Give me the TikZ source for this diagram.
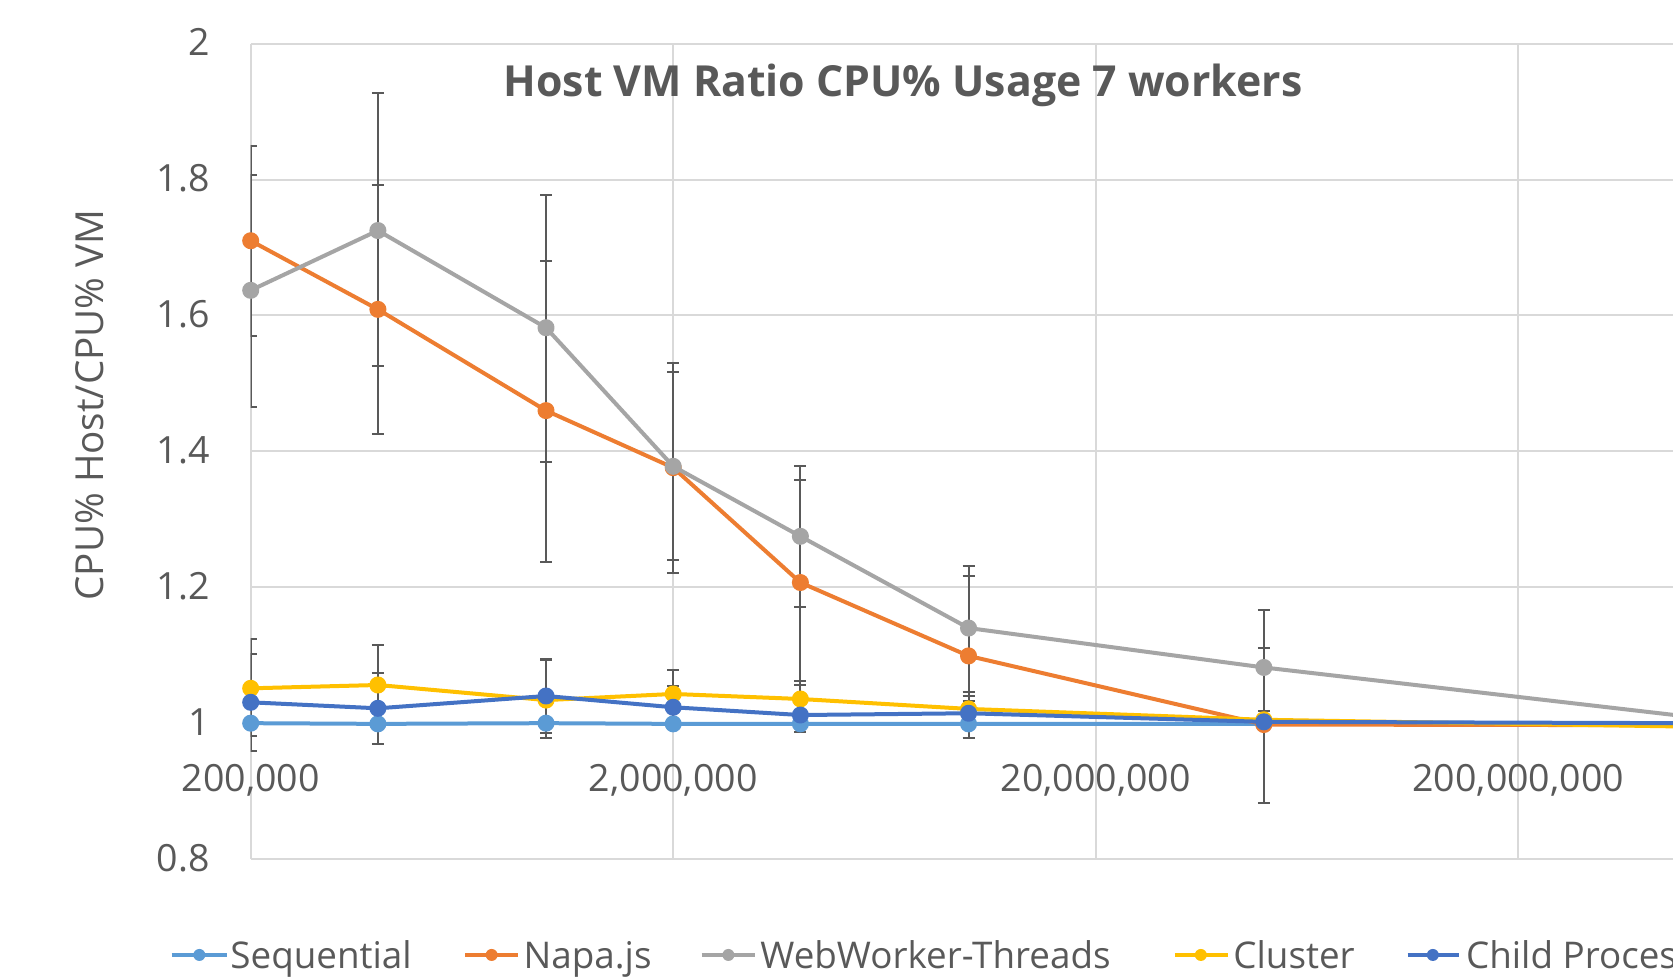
\documentclass[tikz,border=0pt]{standalone}
\usepackage{fontspec}
\setmainfont{Open Sans}
\definecolor{seqblue}{HTML}{5B9BD5}
\definecolor{napaorange}{HTML}{ED7D31}
\definecolor{wwgray}{HTML}{A5A5A5}
\definecolor{clusteryellow}{HTML}{FFC000}
\definecolor{childblue}{HTML}{4472C4}
\definecolor{gridgray}{HTML}{D9D9D9}
\definecolor{textgray}{HTML}{595959}

\begin{document}
\begin{tikzpicture}[x=211.25pt, y=339.75pt]
\tikzset{gridline/.style = {draw=gridgray, line width=1pt}}
\tikzset{series/.style = {line width=2pt, line join=round, mark=*, mark size=3.25pt}}
\tikzset{errbar/.style = {draw=textgray, line width=1pt}}
\tikzset{legline/.style = {line width=2pt}}
\tikzset{ticklabel/.style = {text=textgray, inner sep=0pt, font=\fontsize{18.75}{20}\selectfont}}
\tikzset{legtext/.style = {text=textgray, inner sep=0pt, anchor=base west, font=\fontsize{18.4}{20}\selectfont}}

% page, x in decades from 200,000 and y in ratio
\path[use as bounding box, fill=white] (-0.5934,0.6265) rectangle (3.3664,2.0643);
\begin{scope}
\clip (-0.5934,0.6265) rectangle (3.3664,2.0643);

% grid
\foreach \v in {0.8,1,1.2,1.4,1.6,1.8,2}
  \draw[gridline] (0,\v) -- (3.5,\v);
\foreach \d in {0,1,2,3}
  \draw[gridline] (\d,0.8) -- (\d,2);

% error bars (cut at the value axis)
\begin{scope}
\clip (0,0.6265) rectangle (3.3664,2.0643);
\foreach \x/\lo/\hi in {0/1.57/1.85, 0/1.465/1.807, 0/0.9805/1.1235, 0/0.959/1.102,
    0.30103/1.525/1.927, 0.30103/1.425/1.792, 0.30103/0.998/1.115, 0.30103/0.970/1.074,
    0.69897/1.385/1.778, 0.69897/1.2375/1.680, 0.69897/0.985/1.093, 0.69897/0.978/1.094,
    1/1.2215/1.5297, 1/1.2402/1.5164, 1/1.006/1.078, 1/0.995/1.055,
    1.30103/1.1715/1.3785, 1.30103/1.056/1.358, 1.30103/1.009/1.0626, 1.30103/0.9875/1.0376,
    1.69897/1.0464/1.2313, 1.69897/0.9787/1.2166, 1.69897/1.0/1.040, 1.69897/0.999/1.0327,
    2.39794/0.997/1.1666, 2.39794/0.883/1.111, 2.39794/0.992/1.018}
  \draw[errbar] (\x,\lo) -- (\x,\hi)
    ({\x-0.0142},\lo) -- ({\x+0.0142},\lo)
    ({\x-0.0142},\hi) -- ({\x+0.0142},\hi);
\end{scope}

% series
\draw[series, seqblue] plot coordinates {(0,1.0) (0.30103,0.999) (0.69897,1.0) (1,0.999)
  (1.30103,0.999) (1.69897,0.999) (2.39794,0.999) (3.39794,1.0)};
\draw[series, napaorange] plot coordinates {(0,1.710) (0.30103,1.609) (0.69897,1.460) (1,1.376)
  (1.30103,1.207) (1.69897,1.099) (2.39794,0.998) (3.39794,0.997)};
\draw[series, wwgray] plot coordinates {(0,1.637) (0.30103,1.725) (0.69897,1.582) (1,1.378)
  (1.30103,1.275) (1.69897,1.140) (2.39794,1.082) (3.39794,1.010)};
\draw[series, clusteryellow] plot coordinates {(0,1.0513) (0.30103,1.0562) (0.69897,1.034) (1,1.043)
  (1.30103,1.0356) (1.69897,1.021) (2.39794,1.005) (3.39794,0.995)};
\draw[series, childblue] plot coordinates {(0,1.0307) (0.30103,1.0219) (0.69897,1.040) (1,1.0234)
  (1.30103,1.012) (1.69897,1.0146) (2.39794,1.002) (3.39794,1.0)};

% axis labels
\foreach \v/\t [count=\i] in {0.8/0.8, 1/1, 1.2/1.2, 1.4/1.4, 1.6/1.6, 1.8/1.8, 2/2}
  \node[ticklabel, anchor=base east] (ylab\i) at (-0.0963,{\v-0.0178}) {\t};
\node[ticklabel, anchor=base] (xlab1) at (0,0.8992) {200,000};
\node[ticklabel, anchor=base] (xlab2) at (1,0.8992) {2,000,000};
\node[ticklabel, anchor=base] (xlab3) at (2,0.8992) {20,000,000};
\node[ticklabel, anchor=base] (xlab4) at (3,0.8992) {200,000,000};

\node[text=textgray, inner sep=0pt, rotate=90, anchor=base,
  font=\fontsize{19.3}{22}\selectfont] (ytitle) at (-0.3496,1.4683) {CPU\% Host/CPU\% VM};
\node[text=textgray, inner sep=0pt, anchor=base,
  font=\fontsize{21.4}{24}\selectfont\bfseries] (title) at (1.544,1.922) {Host VM Ratio CPU\% Usage 7 workers};

% legend
\draw[legline, seqblue] (-0.187,0.6589) -- (-0.0567,0.6589);
\fill[seqblue] (-0.1216,0.6589) circle (3pt);
\node[legtext] (legseq) at (-0.049,0.6393) {Sequential};
\draw[legline, napaorange] (0.5072,0.6589) -- (0.6334,0.6589);
\fill[napaorange] (0.5703,0.6589) circle (3pt);
\node[legtext] (legnapa) at (0.6452,0.6393) {Napa.js};
\draw[legline, wwgray] (1.0675,0.6589) -- (1.1936,0.6589);
\fill[wwgray] (1.1306,0.6589) circle (3pt);
\node[legtext] (legww) at (1.2055,0.6393) {WebWorker-Threads};
\draw[legline, clusteryellow] (2.1872,0.6589) -- (2.3136,0.6589);
\fill[clusteryellow] (2.2488,0.6589) circle (3pt);
\node[legtext] (legcluster) at (2.3249,0.6393) {Cluster};
\draw[legline, childblue] (2.738,0.6589) -- (2.8594,0.6589);
\fill[childblue] (2.7979,0.6589) circle (3pt);
\node[legtext] (legchild) at (2.8757,0.6393) {Child Process};
\end{scope}
\end{tikzpicture}
\end{document}
